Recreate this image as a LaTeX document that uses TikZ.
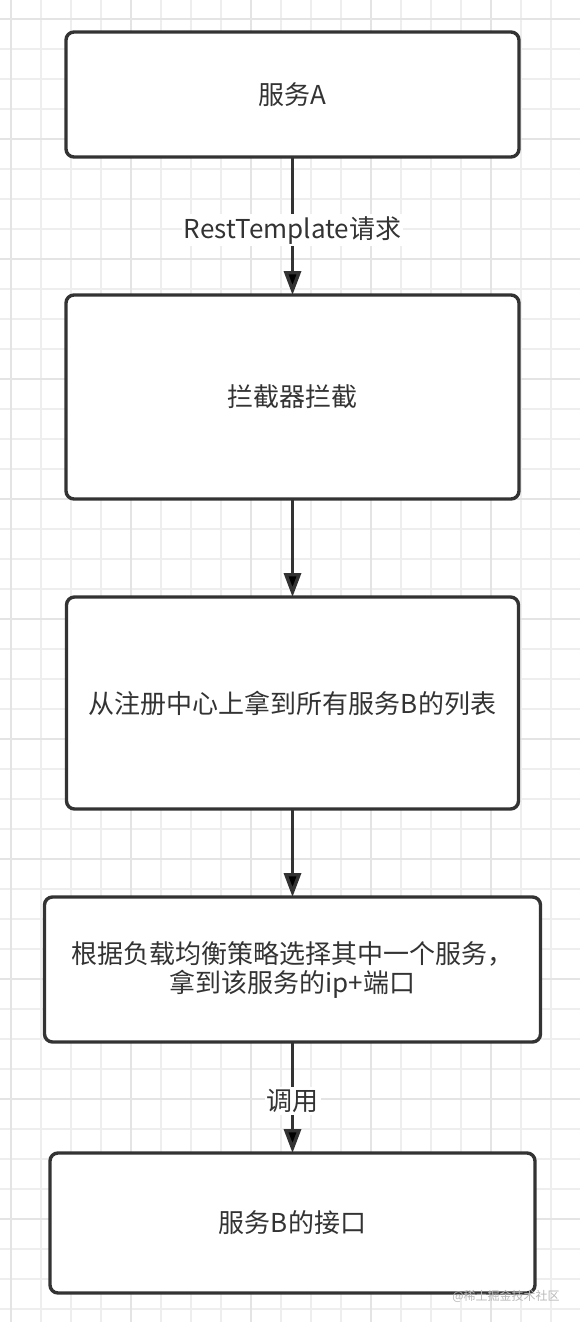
\documentclass[tikz,border=0pt]{standalone}
\usepackage{fontspec}
\setmainfont{Noto Sans CJK SC}
\usetikzlibrary{arrows.meta,positioning}
\definecolor{ink}{HTML}{333333}
\definecolor{gridc}{HTML}{EEEEEE}
\definecolor{gridm}{HTML}{E4E4E4}

\begin{document}
\begin{tikzpicture}[x=1pt,y=-1pt,>={Triangle[length=24pt,width=17pt]},
    font=\fontsize{26}{29}\selectfont,text=ink,
    box/.style={draw=ink,line width=3.4pt,rounded corners=8pt,fill=white,
      outer sep=0pt,align=center},
    lbl/.style={fill=white,inner sep=2pt,pos=0.53},
    flow/.style={->,draw=ink,line width=3.4pt}]

  \useasboundingbox (0,0) rectangle (580,1322);
  \fill[white] (0,0) rectangle (580,1322);
  \foreach \i in {0,...,18}
    \draw[gridc,line width=1.3pt] (11+30*\i,0) -- (11+30*\i,1322);
  \foreach \i in {0,...,43}
    \draw[gridc,line width=1.3pt] (0,19+30*\i) -- (580,19+30*\i);
  \foreach \i in {0,...,4}
    \draw[gridm,line width=1.3pt] (11+120*\i,0) -- (11+120*\i,1322);
  \foreach \i in {0,...,10}
    \draw[gridm,line width=1.3pt] (0,19+120*\i) -- (580,19+120*\i);

  \node[box,minimum width=453pt,minimum height=125pt] (svcA) at (292.5,94.5) {服务A};
  \node[box,minimum width=453pt,minimum height=204pt] (intercept) [below=138pt of svcA] {拦截器拦截};
  \node[box,minimum width=452pt,minimum height=212pt] (registry) [below=98pt of intercept] {从注册中心上拿到所有服务B的列表};
  \node[box,minimum width=496pt,minimum height=145pt] (balance) [below=88pt of registry]
    {根据负载均衡策略选择其中一个服务，\\拿到该服务的ip+端口};
  \node[box,minimum width=485pt,minimum height=140pt] (svcB) [below=111pt of balance] {服务B的接口};
  \node[text=gray!55,font=\fontsize{12}{12}\selectfont] (wm) at (506,1296) {@稀土掘金技术社区};

  \draw[flow]
  (svcA) edge node[lbl]{RestTemplate请求} (intercept)
  (intercept) edge (registry)
  (registry) edge (balance)
  (balance) edge node[lbl]{调用} (svcB);

\end{tikzpicture}
\end{document}
